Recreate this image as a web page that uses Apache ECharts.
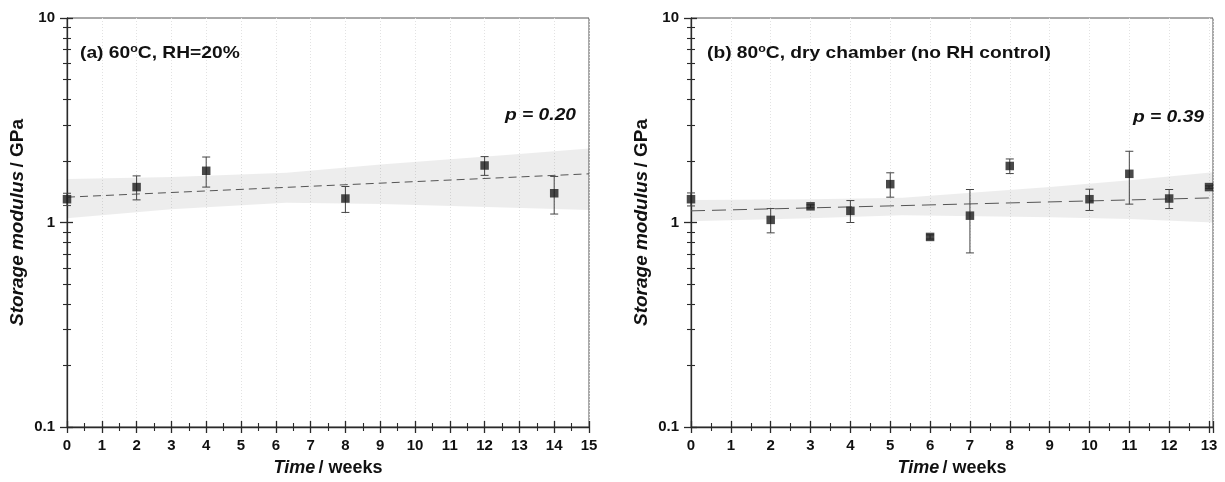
<!DOCTYPE html>
<html><head><meta charset="utf-8">
<script src="https://cdn.jsdelivr.net/npm/echarts@6/dist/echarts.min.js"></script>
<style>html,body{margin:0;padding:0;background:#fff}#c{width:1225px;height:482px}</style>
</head><body><div id="c"></div>
<script>
// ---- Panel (a): 60 °C, RH = 20 % ----
const weeksA = [0, 2, 4, 8, 12, 14];
const modulusA = [1.30, 1.49, 1.79, 1.31, 1.90, 1.39];
const errorA = [0.09, 0.20, 0.30, 0.19, 0.20, 0.29];
const fitWeeksA = [0, 15];
const fitModulusA = [1.33, 1.73];
const bandWeeksA = [0, 3, 6.3, 9, 12.8, 15];
const bandLowA = [1.05, 1.16, 1.25, 1.23, 1.18, 1.15];
const bandHighA = [1.63, 1.67, 1.75, 1.92, 2.15, 2.30];

// ---- Panel (b): 80 °C, dry chamber ----
const weeksB = [0, 2, 3, 4, 5, 6, 7, 8, 10, 11, 12, 13];
const modulusB = [1.30, 1.03, 1.20, 1.14, 1.54, 0.85, 1.08, 1.89, 1.30, 1.73, 1.31, 1.49];
const errorB = [0.095, 0.14, 0.02, 0.14, 0.21, 0.02, 0.37, 0.155, 0.155, 0.50, 0.14, 0.02];
const fitWeeksB = [0, 13.1];
const fitModulusB = [1.14, 1.32];
const bandWeeksB = [0, 3, 5.3, 9, 11, 13.1];
const bandLowB = [1.015, 1.05, 1.085, 1.06, 1.04, 1.00];
const bandHighB = [1.29, 1.30, 1.32, 1.49, 1.61, 1.76];

// ---- Texts / axis ranges ----
const titleA = ['(a) 60', 'o', 'C, RH=20%'];
const titleB = ['(b) 80', 'o', 'C, dry chamber (no RH control)'];
const pTextA = 'p = 0.20';
const pTextB = 'p = 0.39';
const xNameParts = ['Time', '/ weeks'];
const yNameParts = ['Storage modulus', '/ GPa'];
const xMaxA = 15, xMaxB = 13.1;
const yMin = 0.1, yMax = 10;

const FONT = '"Liberation Sans", Arial, sans-serif';
const AX = '#2a2a2a';

function xAxes(g, max) {
  const base = {
    type: 'value', gridIndex: g, min: 0, max: max, interval: 1, position: 'bottom',
    splitLine: { show: false }
  };
  return [
    Object.assign({}, base, {
      axisLine: { onZero: false, lineStyle: { color: AX, width: 1.3 } },
      axisTick: { length: 6, lineStyle: { color: AX, width: 1.3 } },
      minorTick: { show: true, splitNumber: 2, length: 4, lineStyle: { color: AX, width: 1.1 } },
      axisLabel: { fontSize: 15, fontWeight: 'bold', color: '#111', margin: 11, fontFamily: FONT, showMaxLabel: max === 15 },
      splitLine: { show: true, lineStyle: { color: '#e2e2e2', type: [1, 2], width: 1 } },
      name: '{i|' + xNameParts[0] + '} {n|' + xNameParts[1] + '}',
      nameLocation: 'middle', nameGap: 32,
      nameTextStyle: { rich: {
        i: { fontSize: 18, fontWeight: 'bold', fontStyle: 'italic', color: '#111', fontFamily: FONT },
        n: { fontSize: 18, fontWeight: 'bold', color: '#111', fontFamily: FONT } } }
    }),
    Object.assign({}, base, {
      axisLine: { show: false },
      axisTick: { inside: true, length: 6, lineStyle: { color: AX, width: 1.3 } },
      minorTick: { show: true, splitNumber: 2, length: 4, lineStyle: { color: AX, width: 1.1 } },
      axisLabel: { show: false }
    })
  ];
}

function yAxes(g) {
  const base = { type: 'log', logBase: 10, gridIndex: g, min: yMin, max: yMax, position: 'left', splitLine: { show: false } };
  return [
    Object.assign({}, base, {
      axisLine: { onZero: false, lineStyle: { color: AX, width: 1.3 } },
      axisTick: { length: 7, lineStyle: { color: AX, width: 1.3 } },
      minorTick: { show: true, splitNumber: 9, length: 4, lineStyle: { color: AX, width: 1.1 } },
      axisLabel: { fontSize: 15, fontWeight: 'bold', color: '#111', margin: 12, fontFamily: FONT },
      name: '{i|' + yNameParts[0] + '} {n|' + yNameParts[1] + '}',
      nameLocation: 'middle', nameGap: 40,
      nameTextStyle: { rich: {
        i: { fontSize: 19, fontWeight: 'bold', fontStyle: 'italic', color: '#111', fontFamily: FONT },
        n: { fontSize: 19, fontWeight: 'bold', color: '#111', fontFamily: FONT } } }
    }),
    Object.assign({}, base, {
      axisLine: { show: false },
      axisTick: { inside: true, length: 6, lineStyle: { color: AX, width: 1.3 } },
      minorTick: { show: true, splitNumber: 9, length: 4, lineStyle: { color: AX, width: 1.1 } },
      axisLabel: { show: false }
    })
  ];
}

function bandSeries(ax, xs, lo, hi) {
  return {
    type: 'custom', xAxisIndex: ax, yAxisIndex: ax, z: 1, silent: true,
    data: xs.map((x, i) => [x, lo[i], hi[i]]),
    encode: { x: 0, y: [1, 2] },
    renderItem: function (params, api) {
      if (params.dataIndex !== 0) return { type: 'group', children: [] };
      const up = xs.map((x, i) => api.coord([x, hi[i]]));
      const dn = xs.map((x, i) => api.coord([x, lo[i]])).reverse();
      return { type: 'polygon', shape: { points: up.concat(dn) }, style: { fill: 'rgba(0,0,0,0.07)' } };
    }
  };
}

function errorSeries(ax, xs, vals, errs) {
  return {
    type: 'custom', xAxisIndex: ax, yAxisIndex: ax, z: 3, silent: true,
    data: xs.map((x, i) => [x, vals[i] - errs[i], vals[i] + errs[i]]),
    encode: { x: 0, y: [1, 2] },
    renderItem: function (params, api) {
      const x = api.value(0);
      const t = api.coord([x, api.value(2)]);
      const b = api.coord([x, api.value(1)]);
      const w = 4;
      const st = { stroke: '#444', lineWidth: 1 };
      return { type: 'group', children: [
        { type: 'line', shape: { x1: t[0], y1: t[1], x2: b[0], y2: b[1] }, style: st },
        { type: 'line', shape: { x1: t[0] - w, y1: t[1], x2: t[0] + w, y2: t[1] }, style: st },
        { type: 'line', shape: { x1: b[0] - w, y1: b[1], x2: b[0] + w, y2: b[1] }, style: st }
      ] };
    }
  };
}

function fitSeries(ax, xs, ys, dash) {
  return {
    type: 'line', xAxisIndex: ax, yAxisIndex: ax, z: 2, silent: true,
    data: xs.map((x, i) => [x, ys[i]]), showSymbol: false, symbol: 'none',
    lineStyle: { color: '#555', width: 1, type: dash }
  };
}

function pointSeries(ax, xs, ys) {
  return {
    type: 'scatter', xAxisIndex: ax, yAxisIndex: ax, z: 4, silent: true,
    data: xs.map((x, i) => [x, ys[i]]), symbol: 'rect', symbolSize: 8.5,
    itemStyle: { color: '#1c1c1c' }
  };
}

function titleText(x, y, parts) {
  return {
    type: 'text', x: x, y: y, scaleX: 1.13, z: 10,
    style: {
      text: '{n|' + parts[0] + '}{s|' + parts[1] + '}{n|' + parts[2] + '}',
      x: 0, y: 0, align: 'left', verticalAlign: 'middle',
      rich: {
        n: { fontSize: 17, fontWeight: 'bold', fill: '#111', fontFamily: FONT, lineHeight: 20 },
        s: { fontSize: 11, fontWeight: 'bold', fill: '#111', fontFamily: FONT, lineHeight: 12, verticalAlign: 'top' }
      }
    }
  };
}

function pText(x, y, txt) {
  return {
    type: 'text', x: x, y: y, scaleX: 1.13, z: 10,
    style: {
      text: txt, x: 0, y: 0, align: 'right', verticalAlign: 'middle',
      font: 'italic bold 17px ' + FONT, fill: '#111'
    }
  };
}

const chart = echarts.init(document.getElementById('c'), null, { renderer: 'canvas' });
chart.setOption({
  animation: false,
  backgroundColor: '#fff',
  grid: [
    { left: 67, top: 18, width: 522, height: 410, show: true, borderColor: '#555', borderWidth: 1, backgroundColor: 'transparent' },
    { left: 691, top: 18, width: 522, height: 410, show: true, borderColor: '#555', borderWidth: 1, backgroundColor: 'transparent' }
  ],
  xAxis: xAxes(0, xMaxA).concat(xAxes(1, xMaxB)),
  yAxis: yAxes(0).concat(yAxes(1)),
  series: [
    bandSeries(0, bandWeeksA, bandLowA, bandHighA),
    fitSeries(0, fitWeeksA, fitModulusA, [8, 5]),
    errorSeries(0, weeksA, modulusA, errorA),
    pointSeries(0, weeksA, modulusA),
    bandSeries(2, bandWeeksB, bandLowB, bandHighB),
    fitSeries(2, fitWeeksB, fitModulusB, [14, 7]),
    errorSeries(2, weeksB, modulusB, errorB),
    pointSeries(2, weeksB, modulusB)
  ],
  graphic: [
    titleText(80, 53, titleA),
    titleText(707, 53, titleB),
    pText(576, 115, pTextA),
    pText(1204, 117, pTextB)
  ]
});
</script></body></html>
